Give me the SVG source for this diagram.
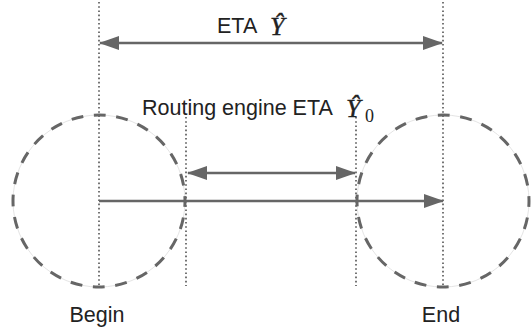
<svg xmlns="http://www.w3.org/2000/svg" width="531" height="328" viewBox="0 0 531 328">
<style>
.lbl{font-family:"Liberation Sans",Arial,sans-serif;font-size:21.5px;fill:#222}
.math{font-family:"Liberation Serif","Times New Roman",serif;font-style:italic;font-size:26px;fill:#222;stroke:#222;stroke-width:0.4}
.sub{font-family:"Liberation Serif","Times New Roman",serif;font-size:18px;fill:#222}
.dot{stroke:#666;stroke-width:1.8;stroke-dasharray:1.6 2.6;fill:none}
.ring{fill:none;stroke:#666;stroke-width:3;stroke-dasharray:12 10.52;stroke-dashoffset:6}
.ghost{fill:none;stroke:#ddd;stroke-width:0.8}
.arr{stroke:#666;stroke-width:2.4;fill:none}
</style>
<defs>
<marker id="ah" markerUnits="userSpaceOnUse" markerWidth="20" markerHeight="14" refX="19" refY="7" orient="auto-start-reverse">
<path d="M0,0 L20,7 L0,14 Z" fill="#666"/>
</marker>
</defs>
<g id="begin">
<circle class="ghost" cx="99" cy="201" r="86"/>
<circle class="ring" cx="99" cy="201" r="86"/>
<text class="lbl" x="97" y="322" text-anchor="middle">Begin</text>
</g>
<g id="end">
<circle class="ghost" cx="443" cy="201" r="86"/>
<circle class="ring" cx="443" cy="201" r="86"/>
<text class="lbl" x="441" y="322" text-anchor="middle">End</text>
</g>
<g id="guides">
<line class="dot" x1="99" y1="2" x2="99" y2="287"/>
<line class="dot" x1="443" y1="2" x2="443" y2="287"/>
<line class="dot" x1="186" y1="117" x2="186" y2="286"/>
<line class="dot" x1="356" y1="117" x2="356" y2="286"/>
</g>
<g id="eta-label">
<text class="lbl" x="217" y="33">ETA</text>
<text class="math" x="270" y="35">Ŷ</text>
</g>
<g id="routing-label">
<text class="lbl" x="142" y="115">Routing engine ETA</text>
<text class="math" x="346" y="117">Ŷ</text>
<text class="sub" x="365" y="122">0</text>
</g>
<g id="connectors">
<line class="arr" x1="100" y1="43" x2="442" y2="43" marker-start="url(#ah)" marker-end="url(#ah)"/>
<line class="arr" x1="188" y1="173" x2="355" y2="173" marker-start="url(#ah)" marker-end="url(#ah)"/>
<line class="arr" x1="99" y1="201" x2="443" y2="201" marker-end="url(#ah)"/>
</g>
</svg>
